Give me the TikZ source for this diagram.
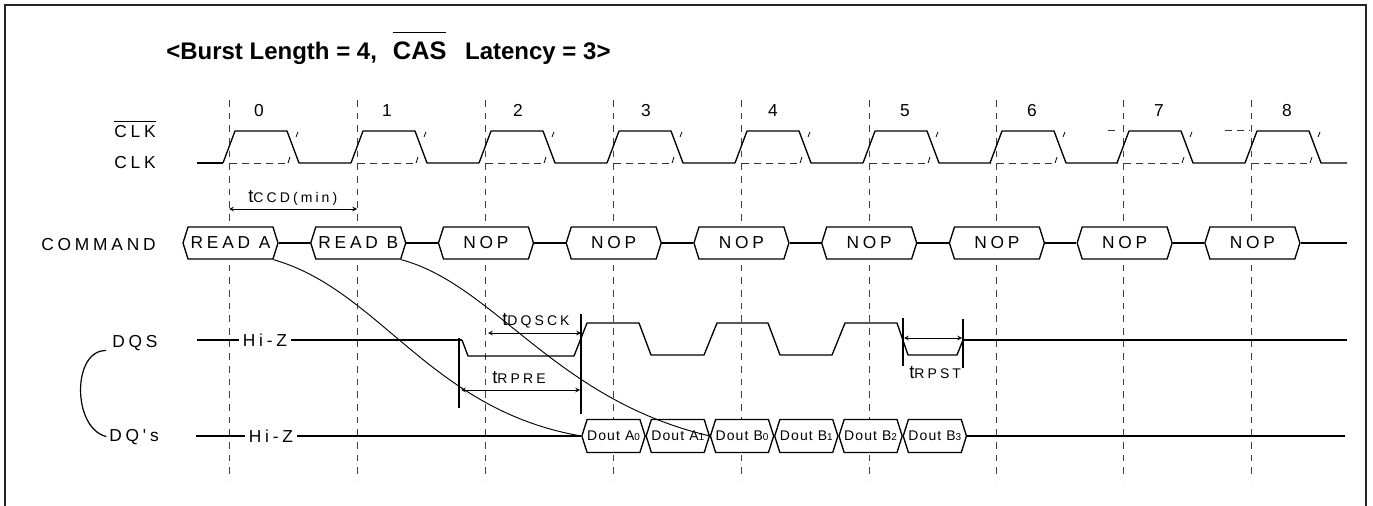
\documentclass[tikz,border=0pt]{standalone}
\usepackage{fontspec}
\setmainfont{Liberation Sans}
\newfontfamily\wide[LetterSpace=22]{Liberation Sans}
\newfontfamily\narrow[LetterSpace=8]{Liberation Sans}
\usetikzlibrary{shapes.symbols}
\newcommand{\barred}[2]{$\overline{\hbox{\rule{0pt}{#1}#2}}$}
\newcommand{\timing}[1]{{\fontsize{14}{16}\selectfont t}{\wide\fontsize{10.5}{12}\selectfont #1}}
\newcommand{\dout}[2]{{\narrow\fontsize{10.5}{12}\selectfont Dout #1}{\fontsize{7.5}{9}\selectfont #2}}
\begin{document}
\begin{tikzpicture}[x=0.75pt, y=-0.75pt, >=stealth]
    \tikzstyle{grid} = [draw=black!75, line width=0.75pt, dash pattern=on 5pt off 4.5pt]
    \tikzstyle{wave} = [line width=1pt, line join=round]
    \tikzstyle{thin dash} = [draw=black!80, line width=0.6pt, dash pattern=on 5pt off 4pt]
    \tikzstyle{link} = [line width=0.7pt]
    \tikzstyle{bar} = [line width=0.9pt]
    \tikzstyle{span} = [<->, line width=0.6pt]
    \tikzstyle{num} = [anchor=base, inner sep=0pt, font=\fontsize{13}{15}\selectfont]
    \tikzstyle{txt} = [inner sep=0pt, font=\wide\fontsize{13}{15}\selectfont]
    \tikzstyle{cmd} = [signal, signal to=east and west, signal pointer angle=145, draw=black, fill=white, line width=1pt,
        minimum width=71.25pt, minimum height=24pt, inner sep=0pt, node distance=95.8pt, font=\wide\fontsize{13}{15}\selectfont]
    \tikzstyle{data} = [signal, signal to=east and west, signal pointer angle=145, draw=black, fill=white, line width=1pt,
        minimum width=47.25pt, minimum height=24.75pt, inner sep=0pt, node distance=48.2pt]
    \tikzstyle{hiz} = [inner sep=0pt, inner xsep=3pt, font=\wide\fontsize{13}{15}\selectfont]

    \useasboundingbox (0,0) rectangle (1373,506);
    \draw[line width=1.5pt, draw=black!85] (5,506) -- (5,5) -- (1366,5) -- (1366,506);

    \node (title) [anchor=base west, inner sep=0pt, font=\bfseries\fontsize{18}{22}\selectfont] at (166,60)
        {<Burst Length = 4,\hspace{12pt}{\fontsize{19}{22}\selectfont\barred{19.5pt}{CAS}}\hspace{14pt}Latency = 3>};

    \foreach \g in {229,357,485,613,741,869,996,1123,1251}
        \draw[grid] (\g,100) -- (\g,480);

    \node (num0) [num] at (259,117) {0};
    \node (num1) [num] at (387,117) {1};
    \node (num2) [num] at (518,117) {2};
    \node (num3) [num] at (646,117) {3};
    \node (num4) [num] at (773,117) {4};
    \node (num5) [num] at (905,117) {5};
    \node (num6) [num] at (1032,117) {6};
    \node (num7) [num] at (1159,117) {7};
    \node (num8) [num] at (1287,117) {8};

    \node (clkb) [txt, anchor=base east] at (156,138) {\barred{11.2pt}{CLK}};
    \node (clk) [txt, anchor=base east] at (156,168) {CLK};
    \node (cmdlabel) [txt, anchor=base east] at (156,250) {COMMAND};
    \node (dqslabel) [txt, anchor=base west] at (112,347) {DQS};
    \node (dqlabel) [txt, anchor=base west] at (109,441) {DQ's};

    \draw[wave] (197,163) -- (223,163);
    \foreach \g in {229,357,485,613,741,869,996,1123,1251} {
        \draw[wave] (\g-6,163) -- (\g+6,131) -- (\g+58,131) -- (\g+70,163) -- ({min(\g+122,1347)},163);
        \draw[thin dash] (\g+1,163) -- (\g+58,163);
        \draw[line width=0.6pt] (\g+59,163) -- (\g+61,157);
        \draw[line width=0.6pt] (\g+69,132) -- (\g+67,137);
    }
    \draw[thin dash] (1108,130.5) -- (1115,130.5);
    \draw[thin dash] (1225,130) -- (1250,130);

    \node (tccd) [inner sep=0pt, anchor=base west] at (248,202) {\timing{CCD(min)}};
    \coordinate (ccdl) at (229,209);
    \coordinate (ccdr) at (357,209);
    \draw[span] (ccdl) -- (ccdr);

    \coordinate (cmdstart) at (1347,243);
    \node (reada) [cmd] at (230.5,243) {READ A};
    \node (readb) [cmd, right of=reada] {READ B};
    \node (nop2) [cmd, right of=readb] {NOP};
    \node (nop3) [cmd, right of=nop2] {NOP};
    \node (nop4) [cmd, right of=nop3] {NOP};
    \node (nop5) [cmd, right of=nop4] {NOP};
    \node (nop6) [cmd, right of=nop5] {NOP};
    \node (nop7) [cmd, right of=nop6] {NOP};
    \node (nop8) [cmd, right of=nop7] {NOP};

    \draw[wave] (reada.east) -- (readb.west);
    \draw[wave] (readb.east) -- (nop2.west);
    \draw[wave] (nop2.east) -- (nop3.west);
    \draw[wave] (nop3.east) -- (nop4.west);
    \draw[wave] (nop4.east) -- (nop5.west);
    \draw[wave] (nop5.east) -- (nop6.west);
    \draw[wave] (nop6.east) -- (nop7.west);
    \draw[wave] (nop7.east) -- (nop8.west);
    \draw[wave] (nop8.east) -- (cmdstart);

    \coordinate (dqsstart) at (197,340);
    \coordinate (dqsfall) at (462,340);
    \coordinate (dqsrest) at (963,340);
    \coordinate (dqsend) at (1347,340);
    \coordinate (dqstart) at (196,436);
    \coordinate (dqend) at (1345,436);

    \node (hiza) [hiz] at (265,340) {Hi-Z};
    \node (hizb) [hiz] at (271,436) {Hi-Z};
    \draw[wave] (dqsstart) -- (hiza);
    \draw[wave] (hiza) -- (dqsfall);
    \draw[wave] (dqsfall) -- (468,356) -- (574,356) -- (587,323) -- (639,323) -- (651,355) -- (704,355) -- (717,323)
        -- (768,323) -- (780,355) -- (832,355) -- (845,323) -- (897,323) -- (908,355) -- (957,355) -- (dqsrest);
    \draw[wave] (dqsrest) -- (dqsend);

    \node (da0) [data] at (613.5,436) {\dout{A}{0}};
    \node (da1) [data, right of=da0] {\dout{A}{1}};
    \node (db0) [data, right of=da1] {\dout{B}{0}};
    \node (db1) [data, right of=db0] {\dout{B}{1}};
    \node (db2) [data, right of=db1] {\dout{B}{2}};
    \node (db3) [data, right of=db2] {\dout{B}{3}};
    \draw[wave] (dqstart) -- (hizb);
    \draw[wave] (hizb) -- (da0.west);
    \draw[wave] (db3.east) -- (dqend);

    \draw[link] (reada.south east) .. controls (380,290) and (430,410) .. (da0.west);
    \draw[link] (readb.south east) .. controls (495,285) and (555,400) .. (da1.east);

    \draw[link, line width=0.9pt] ([xshift=-4.5pt]dqslabel.south west) .. controls (72,350) and (72,428) .. ([xshift=-2pt]dqlabel.west);

    \draw[bar] (459,338) -- (459,408);
    \draw[bar] (581,314) -- (581,414);
    \draw[bar] (903,318) -- (903,366);
    \draw[bar] (963,319) -- (963,368);

    \coordinate (dqsckl) at (488,333);
    \coordinate (dqsckr) at (581,333);
    \coordinate (rprel) at (461,390);
    \coordinate (rprer) at (580,390);
    \coordinate (rpstl) at (904,338);
    \coordinate (rpstr) at (962,338);
    \draw[span] (dqsckl) -- (dqsckr);
    \draw[span] (rprel) -- (rprer);
    \draw[span] (rpstl) -- (rpstr);
    \node (tdqsck) [inner sep=0pt, anchor=base west] at (502,325) {\timing{DQSCK}};
    \node (trpre) [inner sep=0pt, anchor=base west] at (492,383) {\timing{RPRE}};
    \node (trpst) [inner sep=0pt, anchor=base west] at (909,378) {\timing{RPST}};
\end{tikzpicture}
\end{document}
